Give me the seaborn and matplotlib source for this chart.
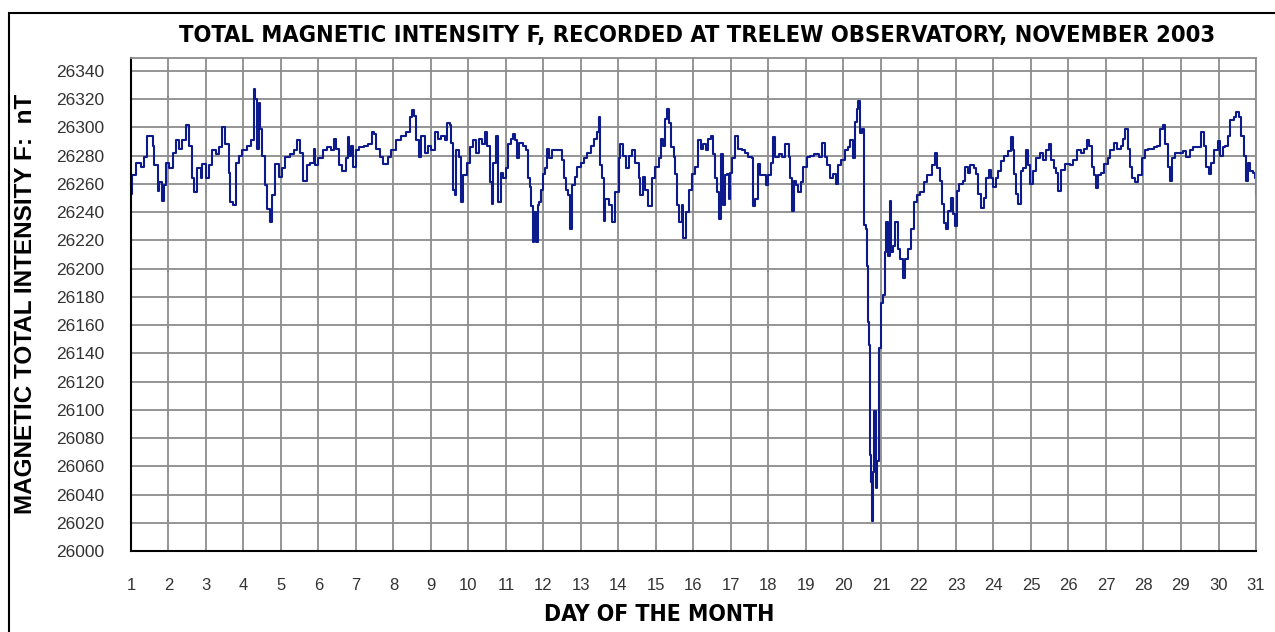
import matplotlib
matplotlib.use("Agg")
import matplotlib.pyplot as plt
import seaborn as sns
from matplotlib.patches import Rectangle

# hourly-ish readings picked off the chart (day of month, nT)
days = [
    1.00, 1.04, 1.13, 1.27, 1.35, 1.44, 1.58, 1.62, 1.71, 1.75, 1.84, 1.88, 1.93,
    2.02, 2.11, 2.19, 2.28, 2.37, 2.46, 2.55, 2.64, 2.68, 2.77, 2.86, 2.90, 2.99,
    3.08, 3.17, 3.26, 3.35, 3.43, 3.52, 3.61, 3.65, 3.73, 3.79, 3.88, 3.96,
    4.10, 4.19, 4.27, 4.32, 4.36, 4.41, 4.45, 4.50, 4.58, 4.63, 4.70, 4.76, 4.85, 4.94,
    5.03, 5.12, 5.25, 5.34, 5.42, 5.50, 5.60, 5.69, 5.78, 5.87, 5.91, 6.00,
    6.11, 6.24, 6.33, 6.42, 6.46, 6.55, 6.64, 6.73, 6.78, 6.82, 6.87, 6.91,
    7.00, 7.09, 7.22, 7.31, 7.43, 7.49, 7.54, 7.63, 7.71, 7.85, 7.94,
    8.07, 8.21, 8.34, 8.43, 8.49, 8.56, 8.61, 8.68, 8.74, 8.83, 8.92,
    9.01, 9.10, 9.19, 9.28, 9.37, 9.43, 9.50, 9.54, 9.59, 9.63, 9.68, 9.74, 9.79, 9.85, 9.95,
    10.04, 10.13, 10.21, 10.28, 10.35, 10.44, 10.50, 10.57, 10.62, 10.66, 10.73, 10.79, 10.86, 10.93,
    11.00, 11.06, 11.13, 11.18, 11.24, 11.30, 11.36, 11.45, 11.53, 11.58, 11.63, 11.67, 11.72,
    11.76, 11.81, 11.85, 11.89, 11.93, 11.99,
    12.04, 12.09, 12.15, 12.24, 12.33, 12.42, 12.50, 12.55, 12.59, 12.65, 12.71, 12.77, 12.83, 12.90, 12.99,
    13.08, 13.17, 13.26, 13.35, 13.42, 13.48, 13.52, 13.57, 13.61, 13.65, 13.74, 13.83, 13.92,
    14.01, 14.05, 14.12, 14.19, 14.27, 14.36, 14.45, 14.54, 14.58, 14.65, 14.71, 14.80, 14.89, 14.98,
    15.07, 15.13, 15.20, 15.25, 15.29, 15.35, 15.41, 15.47, 15.51, 15.56, 15.62, 15.69, 15.73,
    15.81, 15.87, 15.96,
    16.04, 16.12, 16.19, 16.26, 16.33, 16.40, 16.46, 16.52, 16.58, 16.62, 16.67, 16.73, 16.79,
    16.83, 16.90, 16.94, 16.97,
    17.04, 17.11, 17.20, 17.29, 17.38, 17.46, 17.55, 17.60, 17.64, 17.71, 17.78, 17.87, 17.94,
    18.00, 18.06, 18.11, 18.18, 18.27, 18.36, 18.45, 18.54, 18.58, 18.62, 18.67, 18.74, 18.80,
    18.86, 18.93,
    19.03, 19.12, 19.22, 19.34, 19.43, 19.52, 19.56, 19.63, 19.72, 19.79, 19.85, 19.94,
    20.04, 20.13, 20.18, 20.25, 20.31, 20.36, 20.40, 20.45, 20.49, 20.54, 20.56, 20.61, 20.63,
    20.65, 20.68, 20.70, 20.73, 20.76, 20.79, 20.82, 20.86, 20.89, 20.94, 20.96,
    21.00, 21.05, 21.10, 21.13, 21.18, 21.23, 21.27, 21.32, 21.38, 21.45, 21.52, 21.59, 21.65,
    21.71, 21.79, 21.88, 21.96,
    22.05, 22.14, 22.23, 22.37, 22.43, 22.50, 22.57, 22.62, 22.69, 22.73, 22.79, 22.87, 22.91, 22.97,
    23.03, 23.09, 23.18, 23.24, 23.31, 23.38, 23.47, 23.54, 23.60, 23.67, 23.74, 23.80, 23.87, 23.94,
    24.00, 24.07, 24.13, 24.20, 24.29, 24.38, 24.46, 24.52, 24.55, 24.60, 24.66, 24.73, 24.80,
    24.87, 24.93, 24.98,
    25.05, 25.14, 25.23, 25.31, 25.40, 25.47, 25.54, 25.61, 25.67, 25.71, 25.79, 25.90,
    26.03, 26.12, 26.24, 26.33, 26.42, 26.50, 26.56, 26.62, 26.68, 26.74, 26.80, 26.87, 26.96,
    27.05, 27.12, 27.21, 27.30, 27.40, 27.46, 27.52, 27.58, 27.64, 27.70, 27.77, 27.86, 27.95,
    28.04, 28.13, 28.27, 28.36, 28.45, 28.51, 28.58, 28.66, 28.72, 28.76, 28.84, 28.94,
    29.05, 29.14, 29.23, 29.32, 29.41, 29.53, 29.62, 29.68, 29.74, 29.80, 29.89, 29.98,
    30.04, 30.11, 30.18, 30.25, 30.31, 30.40, 30.47, 30.54, 30.60, 30.67, 30.72, 30.78, 30.85,
    30.92, 30.96, 31.00,
]

intensity = [
    26253, 26266, 26275, 26272, 26279, 26294, 26287, 26273, 26255, 26261, 26248, 26259, 26275,
    26271, 26282, 26291, 26285, 26291, 26302, 26287, 26264, 26254, 26271, 26264, 26274, 26264,
    26273, 26284, 26281, 26286, 26300, 26288, 26268, 26247, 26245, 26275, 26280, 26284,
    26287, 26291, 26327, 26320, 26285, 26317, 26299, 26280, 26259, 26242, 26233, 26252, 26274, 26265,
    26271, 26279, 26281, 26284, 26291, 26282, 26262, 26273, 26275, 26285, 26273, 26278,
    26284, 26286, 26284, 26292, 26285, 26273, 26269, 26278, 26293, 26280, 26287, 26272,
    26284, 26286, 26287, 26288, 26297, 26295, 26285, 26279, 26274, 26279, 26284,
    26291, 26294, 26297, 26307, 26312, 26308, 26291, 26279, 26294, 26282, 26287,
    26284, 26297, 26292, 26294, 26291, 26303, 26302, 26289, 26256, 26252, 26284, 26279, 26247, 26266, 26275,
    26286, 26291, 26282, 26292, 26288, 26297, 26287, 26261, 26246, 26275, 26294, 26247, 26268, 26264,
    26271, 26288, 26292, 26295, 26291, 26278, 26289, 26287, 26284, 26264, 26258, 26244, 26219,
    26240, 26219, 26245, 26247, 26256, 26267,
    26271, 26285, 26278, 26284, 26284, 26284, 26277, 26264, 26256, 26252, 26228, 26259, 26265, 26272, 26275,
    26278, 26282, 26287, 26292, 26297, 26307, 26273, 26264, 26234, 26249, 26245, 26233, 26254,
    26278, 26288, 26280, 26271, 26280, 26284, 26275, 26264, 26252, 26265, 26256, 26244, 26264, 26272,
    26278, 26292, 26287, 26306, 26313, 26303, 26286, 26279, 26267, 26245, 26233, 26245, 26222,
    26240, 26256, 26267,
    26272, 26291, 26285, 26288, 26284, 26292, 26294, 26281, 26264, 26254, 26235, 26281, 26245,
    26266, 26267, 26249, 26268,
    26278, 26294, 26285, 26284, 26282, 26279, 26278, 26244, 26249, 26274, 26266, 26266, 26259,
    26266, 26275, 26293, 26279, 26281, 26279, 26288, 26279, 26264, 26241, 26262, 26259, 26254,
    26261, 26272,
    26279, 26280, 26281, 26279, 26289, 26279, 26273, 26264, 26267, 26260, 26273, 26277,
    26284, 26286, 26291, 26278, 26304, 26313, 26319, 26296, 26299, 26293, 26231, 26228, 26202,
    26162, 26146, 26068, 26049, 26021, 26056, 26099, 26045, 26064, 26071, 26144,
    26176, 26181, 26212, 26233, 26209, 26248, 26212, 26216, 26233, 26214, 26207, 26193, 26207,
    26214, 26228, 26247, 26252,
    26254, 26261, 26266, 26273, 26282, 26271, 26262, 26246, 26232, 26228, 26241, 26250, 26239, 26230,
    26255, 26260, 26262, 26272, 26268, 26273, 26271, 26267, 26253, 26243, 26250, 26264, 26270, 26264,
    26258, 26264, 26269, 26276, 26280, 26283, 26293, 26284, 26267, 26253, 26246, 26269, 26271,
    26284, 26273, 26260,
    26269, 26278, 26282, 26277, 26284, 26288, 26277, 26271, 26268, 26255, 26270, 26274,
    26273, 26277, 26284, 26282, 26285, 26291, 26287, 26272, 26266, 26257, 26266, 26268, 26274,
    26278, 26284, 26289, 26285, 26287, 26292, 26299, 26285, 26272, 26264, 26261, 26266, 26278,
    26284, 26285, 26286, 26287, 26299, 26302, 26288, 26272, 26262, 26278, 26282, 26282,
    26283, 26279, 26284, 26286, 26286, 26297, 26287, 26272, 26267, 26275, 26284, 26290,
    26280, 26286, 26287, 26294, 26305, 26307, 26311, 26307, 26294, 26280, 26262, 26275, 26269,
    26268, 26264, 26252,
]

day_ticks = list(range(1, 32))
y_ticks = list(range(26000, 26341, 20))

LINE = "#0d1a8c"
GRID = "#8c8c8c"

sns.set_style("white")
plt.rcParams["font.family"] = ["Liberation Sans", "DejaVu Sans"]
plt.rcParams["text.color"] = "black"

fig = plt.figure(figsize=(12.75, 6.32), dpi=100)
ax = fig.add_axes([0.1027, 0.128, 0.8824, 0.780])

sns.lineplot(x=days, y=intensity, ax=ax, color=LINE, linewidth=1.5,
             estimator=None, sort=False, drawstyle="steps-post")

ax.set_xlim(1, 31)
ax.set_ylim(26000, 26349)
ax.set_xticks(day_ticks)
ax.set_xticklabels([str(d) for d in day_ticks])
ax.set_yticks(y_ticks)
ax.set_yticklabels([str(v) for v in y_ticks])

ax.grid(True, color=GRID, linewidth=1.3)
ax.set_axisbelow(True)
for side in ["top", "right"]:
    ax.spines[side].set_color(GRID)
    ax.spines[side].set_linewidth(1.3)
for side in ["left", "bottom"]:
    ax.spines[side].set_color("black")
    ax.spines[side].set_linewidth(1.5)

ax.tick_params(axis="x", direction="out", length=8.5, width=1.3, color="black",
               pad=11, labelsize=12, labelcolor="#333333")
ax.tick_params(axis="y", direction="out", length=7, width=1.3, color="black",
               pad=12, labelsize=12.5, labelcolor="#333333")

fig.text(0.547, 0.944, "TOTAL MAGNETIC INTENSITY F, RECORDED AT TRELEW OBSERVATORY, NOVEMBER 2003",
         ha="center", va="center", fontsize=16.9, fontweight="bold",
         family="DejaVu Sans", fontstretch="condensed")
fig.text(0.517, 0.027, "DAY OF THE MONTH", ha="center", va="center",
         fontsize=16.5, fontweight="bold", family="DejaVu Sans", fontstretch="condensed")
fig.text(0.020, 0.519, "MAGNETIC TOTAL INTENSITY F:  nT", ha="center", va="center",
         rotation=90, fontsize=17.5, fontweight="bold")

# thin frame round the whole chart
fig.patches.append(Rectangle((0.007, -0.02), 1.0, 1.0, transform=fig.transFigure,
                             fill=False, edgecolor="black", linewidth=1.5))

fig.savefig("out.png", dpi=100)
